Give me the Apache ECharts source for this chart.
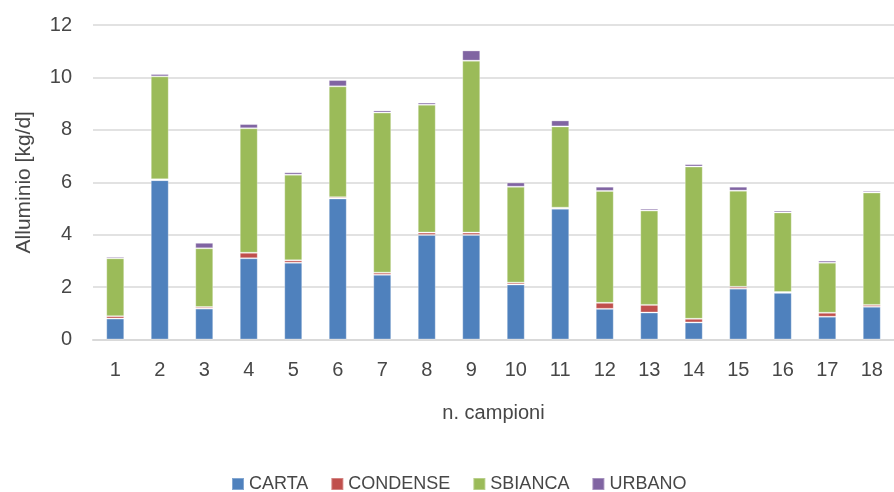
<!DOCTYPE html>
<html>
<head>
<meta charset="utf-8">
<script src="https://cdn.jsdelivr.net/npm/echarts@6/dist/echarts.min.js"></script>
<style>
  html, body { margin: 0; padding: 0; background: #fff; }
  #chart { width: 894px; height: 492px; }
</style>
</head>
<body>
<div id="chart"></div>
<script>
// campioni 1..18
const categories = ["1", "2", "3", "4", "5", "6", "7", "8", "9", "10", "11", "12", "13", "14", "15", "16", "17", "18"];
const carta = [0.80, 6.08, 1.18, 3.10, 2.93, 5.38, 2.47, 3.99, 3.99, 2.10, 4.99, 1.17, 1.03, 0.65, 1.94, 1.78, 0.87, 1.25];
const condense = [0.09, 0.03, 0.06, 0.21, 0.09, 0.05, 0.08, 0.09, 0.09, 0.07, 0.04, 0.23, 0.29, 0.14, 0.07, 0.03, 0.15, 0.07];
const sbianca = [2.21, 3.93, 2.24, 4.75, 3.27, 4.23, 6.11, 4.88, 6.56, 3.66, 3.10, 4.27, 3.60, 5.81, 3.67, 3.04, 1.91, 4.29];
const urbano = [0.06, 0.09, 0.21, 0.16, 0.09, 0.24, 0.08, 0.08, 0.39, 0.16, 0.23, 0.16, 0.07, 0.09, 0.15, 0.07, 0.08, 0.06];

const font = "Liberation Sans";
const textColor = "#474747";

function bar(name, data, color) {
  return {
    name: name,
    type: "bar",
    stack: "tot",
    barWidth: 18,
    itemStyle: { color: color, borderColor: "rgba(255,255,255,0.3)", borderWidth: 1 },
    data: data
  };
}

const chart = echarts.init(document.getElementById("chart"));
chart.setOption({
  animation: false,
  textStyle: { fontFamily: font, color: textColor },
  grid: { left: 93, right: -2, top: 25, height: 314.5 },
  legend: {
    left: 226,
    top: 470,
    itemWidth: 12,
    itemHeight: 12,
    itemGap: 22,
    icon: "rect",
    textStyle: { fontFamily: font, fontSize: 18, color: textColor },
    data: ["CARTA", "CONDENSE", "SBIANCA", "URBANO"]
  },
  xAxis: {
    type: "category",
    data: categories,
    name: "n. campioni",
    nameLocation: "middle",
    nameGap: 64,
    nameTextStyle: { fontFamily: font, fontSize: 20, color: textColor },
    axisLine: { lineStyle: { color: "#d9d9d9", width: 2 } },
    axisTick: { show: false },
    axisLabel: { margin: 21, fontFamily: font, fontSize: 20, color: textColor }
  },
  yAxis: {
    type: "value",
    min: 0,
    max: 12,
    interval: 2,
    name: "Alluminio [kg/d]",
    nameLocation: "middle",
    nameGap: 58,
    nameTextStyle: { fontFamily: font, fontSize: 21, color: textColor },
    axisLine: { show: false },
    axisTick: { show: false },
    splitLine: { lineStyle: { color: "#d9d9d9", width: 1.5 } },
    axisLabel: { margin: 21, fontFamily: font, fontSize: 20, color: textColor }
  },
  series: [
    bar("CARTA", carta, "#4f81bd"),
    bar("CONDENSE", condense, "#c0504d"),
    bar("SBIANCA", sbianca, "#9bbb59"),
    bar("URBANO", urbano, "#8064a2")
  ]
});
</script>
</body>
</html>
